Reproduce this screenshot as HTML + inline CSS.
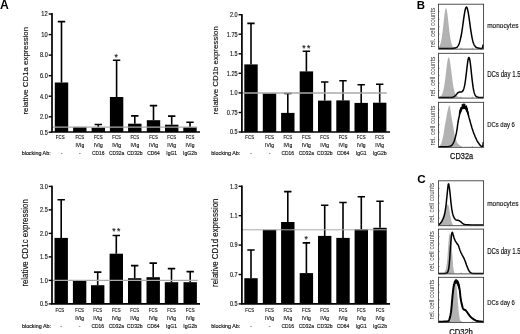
<!DOCTYPE html>
<html><head><meta charset="utf-8"><title>Figure</title>
<style>html,body{margin:0;padding:0;background:#fff}svg{display:block;filter:blur(0.35px)}</style></head>
<body>
<svg width="520" height="334" viewBox="0 0 520 334" font-family='"Liberation Sans", sans-serif' fill="#000">
<rect width="520" height="334" fill="#fff"/>
<path d="M61.5 82.5V21.6M57.8 21.6H65.2" stroke="#000" stroke-width="1.6" fill="none"/>
<rect x="54.8" y="82.5" width="13.4" height="49.5" fill="#000"/>
<rect x="73.1" y="126.9" width="13.4" height="5.1" fill="#000"/>
<path d="M98.3 127.6V124.5M94.6 124.5H102.0" stroke="#000" stroke-width="1.6" fill="none"/>
<rect x="91.6" y="127.6" width="13.4" height="4.4" fill="#000"/>
<path d="M116.6 97.0V60.2M112.9 60.2H120.3" stroke="#000" stroke-width="1.6" fill="none"/>
<rect x="109.9" y="97.0" width="13.4" height="35.0" fill="#000"/>
<path d="M134.8 123.7V115.9M131.1 115.9H138.5" stroke="#000" stroke-width="1.6" fill="none"/>
<rect x="128.1" y="123.7" width="13.4" height="8.3" fill="#000"/>
<path d="M153.5 120.2V105.6M149.8 105.6H157.2" stroke="#000" stroke-width="1.6" fill="none"/>
<rect x="146.8" y="120.2" width="13.4" height="11.8" fill="#000"/>
<path d="M171.7 124.7V116.1M168.0 116.1H175.4" stroke="#000" stroke-width="1.6" fill="none"/>
<rect x="165.0" y="124.7" width="13.4" height="7.3" fill="#000"/>
<path d="M190.0 127.2V122.2M186.3 122.2H193.7" stroke="#000" stroke-width="1.6" fill="none"/>
<rect x="183.3" y="127.2" width="13.4" height="4.8" fill="#000"/>
<path d="M52.0 127.1H197.3" stroke="#aaa" stroke-width="1.3" fill="none"/>
<path d="M52.0 13.0V132.0H200.0" stroke="#000" stroke-width="1.7" fill="none"/>
<path d="M48.7 14.0H52.0" stroke="#000" stroke-width="1.4"/>
<text transform="translate(47.70 16.30)" x="-6.36" y="0" font-size="6.82" textLength="6.36" lengthAdjust="spacingAndGlyphs" fill="#111" stroke="#111" stroke-width="0.15">12</text>
<path d="M48.7 34.6H52.0" stroke="#000" stroke-width="1.4"/>
<text transform="translate(47.70 36.86)" x="-6.36" y="0" font-size="6.82" textLength="6.36" lengthAdjust="spacingAndGlyphs" fill="#111" stroke="#111" stroke-width="0.15">10</text>
<path d="M48.7 55.1H52.0" stroke="#000" stroke-width="1.4"/>
<text transform="translate(47.70 57.41)" x="-7.64" y="0" font-size="6.82" textLength="7.64" lengthAdjust="spacingAndGlyphs" fill="#111" stroke="#111" stroke-width="0.15">8.0</text>
<path d="M48.7 75.7H52.0" stroke="#000" stroke-width="1.4"/>
<text transform="translate(47.70 77.97)" x="-7.64" y="0" font-size="6.82" textLength="7.64" lengthAdjust="spacingAndGlyphs" fill="#111" stroke="#111" stroke-width="0.15">6.0</text>
<path d="M48.7 96.2H52.0" stroke="#000" stroke-width="1.4"/>
<text transform="translate(47.70 98.53)" x="-7.64" y="0" font-size="6.82" textLength="7.64" lengthAdjust="spacingAndGlyphs" fill="#111" stroke="#111" stroke-width="0.15">4.0</text>
<path d="M48.7 116.8H52.0" stroke="#000" stroke-width="1.4"/>
<text transform="translate(47.70 119.08)" x="-7.64" y="0" font-size="6.82" textLength="7.64" lengthAdjust="spacingAndGlyphs" fill="#111" stroke="#111" stroke-width="0.15">2.0</text>
<path d="M48.7 132.2H52.0" stroke="#000" stroke-width="1.4"/>
<text transform="translate(47.70 134.50)" x="-7.64" y="0" font-size="6.82" textLength="7.64" lengthAdjust="spacingAndGlyphs" fill="#111" stroke="#111" stroke-width="0.15">0.5</text>
<text transform="translate(28.30 70.80) rotate(-90)" x="-43.81" y="0" font-size="8.12" textLength="87.63" lengthAdjust="spacingAndGlyphs" fill="#111" stroke="#111" stroke-width="0.15">relative CD1a expression</text>
<text x="114.60" y="60.30" font-size="8.6" textLength="4.0" lengthAdjust="spacing" fill="#222" stroke="#222" stroke-width="0.2">*</text>
<text transform="translate(60.20 139.30)" x="-4.33" y="0" font-size="5.72" textLength="8.66" lengthAdjust="spacingAndGlyphs" fill="#111" stroke="#111" stroke-width="0.15">FCS</text>
<text transform="translate(79.80 139.30)" x="-4.33" y="0" font-size="5.72" textLength="8.66" lengthAdjust="spacingAndGlyphs" fill="#111" stroke="#111" stroke-width="0.15">FCS</text>
<text transform="translate(98.30 139.30)" x="-4.33" y="0" font-size="5.72" textLength="8.66" lengthAdjust="spacingAndGlyphs" fill="#111" stroke="#111" stroke-width="0.15">FCS</text>
<text transform="translate(116.60 139.30)" x="-4.33" y="0" font-size="5.72" textLength="8.66" lengthAdjust="spacingAndGlyphs" fill="#111" stroke="#111" stroke-width="0.15">FCS</text>
<text transform="translate(134.80 139.30)" x="-4.33" y="0" font-size="5.72" textLength="8.66" lengthAdjust="spacingAndGlyphs" fill="#111" stroke="#111" stroke-width="0.15">FCS</text>
<text transform="translate(153.50 139.30)" x="-4.33" y="0" font-size="5.72" textLength="8.66" lengthAdjust="spacingAndGlyphs" fill="#111" stroke="#111" stroke-width="0.15">FCS</text>
<text transform="translate(171.70 139.30)" x="-4.33" y="0" font-size="5.72" textLength="8.66" lengthAdjust="spacingAndGlyphs" fill="#111" stroke="#111" stroke-width="0.15">FCS</text>
<text transform="translate(190.00 139.30)" x="-4.33" y="0" font-size="5.72" textLength="8.66" lengthAdjust="spacingAndGlyphs" fill="#111" stroke="#111" stroke-width="0.15">FCS</text>
<text transform="translate(79.80 147.10)" x="-4.43" y="0" font-size="5.72" textLength="8.85" lengthAdjust="spacingAndGlyphs" fill="#111" stroke="#111" stroke-width="0.15">IVIg</text>
<text transform="translate(98.30 147.10)" x="-4.43" y="0" font-size="5.72" textLength="8.85" lengthAdjust="spacingAndGlyphs" fill="#111" stroke="#111" stroke-width="0.15">IVIg</text>
<text transform="translate(116.60 147.10)" x="-4.43" y="0" font-size="5.72" textLength="8.85" lengthAdjust="spacingAndGlyphs" fill="#111" stroke="#111" stroke-width="0.15">IVIg</text>
<text transform="translate(134.80 147.10)" x="-4.43" y="0" font-size="5.72" textLength="8.85" lengthAdjust="spacingAndGlyphs" fill="#111" stroke="#111" stroke-width="0.15">IVIg</text>
<text transform="translate(153.50 147.10)" x="-4.43" y="0" font-size="5.72" textLength="8.85" lengthAdjust="spacingAndGlyphs" fill="#111" stroke="#111" stroke-width="0.15">IVIg</text>
<text transform="translate(171.70 147.10)" x="-4.43" y="0" font-size="5.72" textLength="8.85" lengthAdjust="spacingAndGlyphs" fill="#111" stroke="#111" stroke-width="0.15">IVIg</text>
<text transform="translate(190.00 147.10)" x="-4.43" y="0" font-size="5.72" textLength="8.85" lengthAdjust="spacingAndGlyphs" fill="#111" stroke="#111" stroke-width="0.15">IVIg</text>
<text transform="translate(61.50 155.00)" x="-0.85" y="0" font-size="5.72" textLength="1.70" lengthAdjust="spacingAndGlyphs" fill="#111" stroke="#111" stroke-width="0.15">-</text>
<text transform="translate(79.80 155.00)" x="-0.85" y="0" font-size="5.72" textLength="1.70" lengthAdjust="spacingAndGlyphs" fill="#111" stroke="#111" stroke-width="0.15">-</text>
<text transform="translate(98.30 155.00)" x="-6.30" y="0" font-size="5.72" textLength="12.61" lengthAdjust="spacingAndGlyphs" fill="#111" stroke="#111" stroke-width="0.15">CD16</text>
<text transform="translate(116.60 155.00)" x="-7.64" y="0" font-size="5.72" textLength="15.28" lengthAdjust="spacingAndGlyphs" fill="#111" stroke="#111" stroke-width="0.15">CD32a</text>
<text transform="translate(134.80 155.00)" x="-7.88" y="0" font-size="5.72" textLength="15.77" lengthAdjust="spacingAndGlyphs" fill="#111" stroke="#111" stroke-width="0.15">CD32b</text>
<text transform="translate(153.50 155.00)" x="-6.30" y="0" font-size="5.72" textLength="12.61" lengthAdjust="spacingAndGlyphs" fill="#111" stroke="#111" stroke-width="0.15">CD64</text>
<text transform="translate(171.70 155.00)" x="-5.43" y="0" font-size="5.72" textLength="10.86" lengthAdjust="spacingAndGlyphs" fill="#111" stroke="#111" stroke-width="0.15">IgG1</text>
<text transform="translate(190.00 155.00)" x="-7.01" y="0" font-size="5.72" textLength="14.02" lengthAdjust="spacingAndGlyphs" fill="#111" stroke="#111" stroke-width="0.15">IgG2b</text>
<text transform="translate(21.70 155.00)" x="0.00" y="0" font-size="5.72" textLength="28.97" lengthAdjust="spacingAndGlyphs" fill="#111" stroke="#111" stroke-width="0.15">blocking Ab:</text>
<path d="M251.0 64.4V23.4M247.3 23.4H254.7" stroke="#000" stroke-width="1.6" fill="none"/>
<rect x="244.3" y="64.4" width="13.4" height="67.6" fill="#000"/>
<rect x="262.8" y="93.3" width="13.4" height="38.7" fill="#000"/>
<path d="M287.8 112.9V93.5M284.1 93.5H291.5" stroke="#000" stroke-width="1.6" fill="none"/>
<rect x="281.1" y="112.9" width="13.4" height="19.1" fill="#000"/>
<path d="M306.4 71.4V51.3M302.7 51.3H310.1" stroke="#000" stroke-width="1.6" fill="none"/>
<rect x="299.7" y="71.4" width="13.4" height="60.6" fill="#000"/>
<path d="M324.7 100.6V82.0M321.0 82.0H328.4" stroke="#000" stroke-width="1.6" fill="none"/>
<rect x="318.0" y="100.6" width="13.4" height="31.4" fill="#000"/>
<path d="M343.0 100.4V80.8M339.3 80.8H346.7" stroke="#000" stroke-width="1.6" fill="none"/>
<rect x="336.3" y="100.4" width="13.4" height="31.6" fill="#000"/>
<path d="M361.2 102.9V84.8M357.5 84.8H364.9" stroke="#000" stroke-width="1.6" fill="none"/>
<rect x="354.5" y="102.9" width="13.4" height="29.1" fill="#000"/>
<path d="M379.7 102.7V84.3M376.0 84.3H383.4" stroke="#000" stroke-width="1.6" fill="none"/>
<rect x="373.0" y="102.7" width="13.4" height="29.3" fill="#000"/>
<path d="M241.9 93.0H386.8" stroke="#aaa" stroke-width="1.3" fill="none"/>
<path d="M241.9 14.0V132.0H390.0" stroke="#000" stroke-width="1.7" fill="none"/>
<path d="M238.6 14.7H241.9" stroke="#000" stroke-width="1.4"/>
<text transform="translate(237.60 17.00)" x="-7.64" y="0" font-size="6.82" textLength="7.64" lengthAdjust="spacingAndGlyphs" fill="#111" stroke="#111" stroke-width="0.15">2.0</text>
<path d="M238.6 34.2H241.9" stroke="#000" stroke-width="1.4"/>
<text transform="translate(237.60 36.55)" x="-10.83" y="0" font-size="6.82" textLength="10.83" lengthAdjust="spacingAndGlyphs" fill="#111" stroke="#111" stroke-width="0.15">1.75</text>
<path d="M238.6 53.8H241.9" stroke="#000" stroke-width="1.4"/>
<text transform="translate(237.60 56.10)" x="-7.64" y="0" font-size="6.82" textLength="7.64" lengthAdjust="spacingAndGlyphs" fill="#111" stroke="#111" stroke-width="0.15">1.5</text>
<path d="M238.6 73.3H241.9" stroke="#000" stroke-width="1.4"/>
<text transform="translate(237.60 75.65)" x="-10.83" y="0" font-size="6.82" textLength="10.83" lengthAdjust="spacingAndGlyphs" fill="#111" stroke="#111" stroke-width="0.15">1.25</text>
<path d="M238.6 92.9H241.9" stroke="#000" stroke-width="1.4"/>
<text transform="translate(237.60 95.20)" x="-7.64" y="0" font-size="6.82" textLength="7.64" lengthAdjust="spacingAndGlyphs" fill="#111" stroke="#111" stroke-width="0.15">1.0</text>
<path d="M238.6 112.5H241.9" stroke="#000" stroke-width="1.4"/>
<text transform="translate(237.60 114.75)" x="-10.83" y="0" font-size="6.82" textLength="10.83" lengthAdjust="spacingAndGlyphs" fill="#111" stroke="#111" stroke-width="0.15">0.75</text>
<path d="M238.6 132.0H241.9" stroke="#000" stroke-width="1.4"/>
<text transform="translate(237.60 134.30)" x="-7.64" y="0" font-size="6.82" textLength="7.64" lengthAdjust="spacingAndGlyphs" fill="#111" stroke="#111" stroke-width="0.15">0.5</text>
<text transform="translate(218.40 70.30) rotate(-90)" x="-44.08" y="0" font-size="8.10" textLength="88.17" lengthAdjust="spacingAndGlyphs" fill="#111" stroke="#111" stroke-width="0.15">relative CD1b expression</text>
<text x="302.30" y="50.70" font-size="8.6" textLength="8.0" lengthAdjust="spacing" fill="#222" stroke="#222" stroke-width="0.2">**</text>
<text transform="translate(249.70 139.30)" x="-4.33" y="0" font-size="5.72" textLength="8.66" lengthAdjust="spacingAndGlyphs" fill="#111" stroke="#111" stroke-width="0.15">FCS</text>
<text transform="translate(269.50 139.30)" x="-4.33" y="0" font-size="5.72" textLength="8.66" lengthAdjust="spacingAndGlyphs" fill="#111" stroke="#111" stroke-width="0.15">FCS</text>
<text transform="translate(287.80 139.30)" x="-4.33" y="0" font-size="5.72" textLength="8.66" lengthAdjust="spacingAndGlyphs" fill="#111" stroke="#111" stroke-width="0.15">FCS</text>
<text transform="translate(306.40 139.30)" x="-4.33" y="0" font-size="5.72" textLength="8.66" lengthAdjust="spacingAndGlyphs" fill="#111" stroke="#111" stroke-width="0.15">FCS</text>
<text transform="translate(324.70 139.30)" x="-4.33" y="0" font-size="5.72" textLength="8.66" lengthAdjust="spacingAndGlyphs" fill="#111" stroke="#111" stroke-width="0.15">FCS</text>
<text transform="translate(343.00 139.30)" x="-4.33" y="0" font-size="5.72" textLength="8.66" lengthAdjust="spacingAndGlyphs" fill="#111" stroke="#111" stroke-width="0.15">FCS</text>
<text transform="translate(361.20 139.30)" x="-4.33" y="0" font-size="5.72" textLength="8.66" lengthAdjust="spacingAndGlyphs" fill="#111" stroke="#111" stroke-width="0.15">FCS</text>
<text transform="translate(379.70 139.30)" x="-4.33" y="0" font-size="5.72" textLength="8.66" lengthAdjust="spacingAndGlyphs" fill="#111" stroke="#111" stroke-width="0.15">FCS</text>
<text transform="translate(269.50 147.10)" x="-4.43" y="0" font-size="5.72" textLength="8.85" lengthAdjust="spacingAndGlyphs" fill="#111" stroke="#111" stroke-width="0.15">IVIg</text>
<text transform="translate(287.80 147.10)" x="-4.43" y="0" font-size="5.72" textLength="8.85" lengthAdjust="spacingAndGlyphs" fill="#111" stroke="#111" stroke-width="0.15">IVIg</text>
<text transform="translate(306.40 147.10)" x="-4.43" y="0" font-size="5.72" textLength="8.85" lengthAdjust="spacingAndGlyphs" fill="#111" stroke="#111" stroke-width="0.15">IVIg</text>
<text transform="translate(324.70 147.10)" x="-4.43" y="0" font-size="5.72" textLength="8.85" lengthAdjust="spacingAndGlyphs" fill="#111" stroke="#111" stroke-width="0.15">IVIg</text>
<text transform="translate(343.00 147.10)" x="-4.43" y="0" font-size="5.72" textLength="8.85" lengthAdjust="spacingAndGlyphs" fill="#111" stroke="#111" stroke-width="0.15">IVIg</text>
<text transform="translate(361.20 147.10)" x="-4.43" y="0" font-size="5.72" textLength="8.85" lengthAdjust="spacingAndGlyphs" fill="#111" stroke="#111" stroke-width="0.15">IVIg</text>
<text transform="translate(379.70 147.10)" x="-4.43" y="0" font-size="5.72" textLength="8.85" lengthAdjust="spacingAndGlyphs" fill="#111" stroke="#111" stroke-width="0.15">IVIg</text>
<text transform="translate(251.00 155.00)" x="-0.85" y="0" font-size="5.72" textLength="1.70" lengthAdjust="spacingAndGlyphs" fill="#111" stroke="#111" stroke-width="0.15">-</text>
<text transform="translate(269.50 155.00)" x="-0.85" y="0" font-size="5.72" textLength="1.70" lengthAdjust="spacingAndGlyphs" fill="#111" stroke="#111" stroke-width="0.15">-</text>
<text transform="translate(287.80 155.00)" x="-6.30" y="0" font-size="5.72" textLength="12.61" lengthAdjust="spacingAndGlyphs" fill="#111" stroke="#111" stroke-width="0.15">CD16</text>
<text transform="translate(306.40 155.00)" x="-7.64" y="0" font-size="5.72" textLength="15.28" lengthAdjust="spacingAndGlyphs" fill="#111" stroke="#111" stroke-width="0.15">CD32a</text>
<text transform="translate(324.70 155.00)" x="-7.88" y="0" font-size="5.72" textLength="15.77" lengthAdjust="spacingAndGlyphs" fill="#111" stroke="#111" stroke-width="0.15">CD32b</text>
<text transform="translate(343.00 155.00)" x="-6.30" y="0" font-size="5.72" textLength="12.61" lengthAdjust="spacingAndGlyphs" fill="#111" stroke="#111" stroke-width="0.15">CD64</text>
<text transform="translate(361.20 155.00)" x="-5.43" y="0" font-size="5.72" textLength="10.86" lengthAdjust="spacingAndGlyphs" fill="#111" stroke="#111" stroke-width="0.15">IgG1</text>
<text transform="translate(379.70 155.00)" x="-7.01" y="0" font-size="5.72" textLength="14.02" lengthAdjust="spacingAndGlyphs" fill="#111" stroke="#111" stroke-width="0.15">IgG2b</text>
<text transform="translate(211.30 155.00)" x="0.00" y="0" font-size="5.72" textLength="28.97" lengthAdjust="spacingAndGlyphs" fill="#111" stroke="#111" stroke-width="0.15">blocking Ab:</text>
<path d="M61.2 237.9V199.7M57.5 199.7H64.9" stroke="#000" stroke-width="1.6" fill="none"/>
<rect x="54.5" y="237.9" width="13.4" height="66.0" fill="#000"/>
<rect x="72.9" y="280.2" width="13.4" height="23.7" fill="#000"/>
<path d="M97.7 285.2V272.1M94.0 272.1H101.4" stroke="#000" stroke-width="1.6" fill="none"/>
<rect x="91.0" y="285.2" width="13.4" height="18.7" fill="#000"/>
<path d="M116.3 253.7V235.5M112.6 235.5H120.0" stroke="#000" stroke-width="1.6" fill="none"/>
<rect x="109.6" y="253.7" width="13.4" height="50.2" fill="#000"/>
<path d="M134.7 278.2V265.6M131.0 265.6H138.4" stroke="#000" stroke-width="1.6" fill="none"/>
<rect x="128.0" y="278.2" width="13.4" height="25.7" fill="#000"/>
<path d="M153.2 277.2V263.1M149.5 263.1H156.9" stroke="#000" stroke-width="1.6" fill="none"/>
<rect x="146.5" y="277.2" width="13.4" height="26.7" fill="#000"/>
<path d="M171.5 282.2V268.6M167.8 268.6H175.2" stroke="#000" stroke-width="1.6" fill="none"/>
<rect x="164.8" y="282.2" width="13.4" height="21.7" fill="#000"/>
<path d="M190.2 282.2V271.6M186.5 271.6H193.9" stroke="#000" stroke-width="1.6" fill="none"/>
<rect x="183.5" y="282.2" width="13.4" height="21.7" fill="#000"/>
<path d="M52.0 280.4H197.6" stroke="#aaa" stroke-width="1.1" fill="none"/>
<path d="M52.0 185.7V303.9H200.0" stroke="#000" stroke-width="1.7" fill="none"/>
<path d="M48.7 186.4H52.0" stroke="#000" stroke-width="1.4"/>
<text transform="translate(47.70 188.70)" x="-7.64" y="0" font-size="6.82" textLength="7.64" lengthAdjust="spacingAndGlyphs" fill="#111" stroke="#111" stroke-width="0.15">3.0</text>
<path d="M48.7 209.9H52.0" stroke="#000" stroke-width="1.4"/>
<text transform="translate(47.70 212.20)" x="-7.64" y="0" font-size="6.82" textLength="7.64" lengthAdjust="spacingAndGlyphs" fill="#111" stroke="#111" stroke-width="0.15">2.5</text>
<path d="M48.7 233.4H52.0" stroke="#000" stroke-width="1.4"/>
<text transform="translate(47.70 235.70)" x="-7.64" y="0" font-size="6.82" textLength="7.64" lengthAdjust="spacingAndGlyphs" fill="#111" stroke="#111" stroke-width="0.15">2.0</text>
<path d="M48.7 256.9H52.0" stroke="#000" stroke-width="1.4"/>
<text transform="translate(47.70 259.20)" x="-7.64" y="0" font-size="6.82" textLength="7.64" lengthAdjust="spacingAndGlyphs" fill="#111" stroke="#111" stroke-width="0.15">1.5</text>
<path d="M48.7 280.4H52.0" stroke="#000" stroke-width="1.4"/>
<text transform="translate(47.70 282.70)" x="-7.64" y="0" font-size="6.82" textLength="7.64" lengthAdjust="spacingAndGlyphs" fill="#111" stroke="#111" stroke-width="0.15">1.0</text>
<path d="M48.7 303.9H52.0" stroke="#000" stroke-width="1.4"/>
<text transform="translate(47.70 306.20)" x="-7.64" y="0" font-size="6.82" textLength="7.64" lengthAdjust="spacingAndGlyphs" fill="#111" stroke="#111" stroke-width="0.15">0.5</text>
<text transform="translate(27.70 242.90) rotate(-90)" x="-43.72" y="0" font-size="8.13" textLength="87.44" lengthAdjust="spacingAndGlyphs" fill="#111" stroke="#111" stroke-width="0.15">relative CD1c expression</text>
<text x="112.30" y="234.40" font-size="8.6" textLength="8.0" lengthAdjust="spacing" fill="#222" stroke="#222" stroke-width="0.2">**</text>
<text transform="translate(59.90 311.70)" x="-4.33" y="0" font-size="5.72" textLength="8.66" lengthAdjust="spacingAndGlyphs" fill="#111" stroke="#111" stroke-width="0.15">FCS</text>
<text transform="translate(79.60 311.70)" x="-4.33" y="0" font-size="5.72" textLength="8.66" lengthAdjust="spacingAndGlyphs" fill="#111" stroke="#111" stroke-width="0.15">FCS</text>
<text transform="translate(97.70 311.70)" x="-4.33" y="0" font-size="5.72" textLength="8.66" lengthAdjust="spacingAndGlyphs" fill="#111" stroke="#111" stroke-width="0.15">FCS</text>
<text transform="translate(116.30 311.70)" x="-4.33" y="0" font-size="5.72" textLength="8.66" lengthAdjust="spacingAndGlyphs" fill="#111" stroke="#111" stroke-width="0.15">FCS</text>
<text transform="translate(134.70 311.70)" x="-4.33" y="0" font-size="5.72" textLength="8.66" lengthAdjust="spacingAndGlyphs" fill="#111" stroke="#111" stroke-width="0.15">FCS</text>
<text transform="translate(153.20 311.70)" x="-4.33" y="0" font-size="5.72" textLength="8.66" lengthAdjust="spacingAndGlyphs" fill="#111" stroke="#111" stroke-width="0.15">FCS</text>
<text transform="translate(171.50 311.70)" x="-4.33" y="0" font-size="5.72" textLength="8.66" lengthAdjust="spacingAndGlyphs" fill="#111" stroke="#111" stroke-width="0.15">FCS</text>
<text transform="translate(190.20 311.70)" x="-4.33" y="0" font-size="5.72" textLength="8.66" lengthAdjust="spacingAndGlyphs" fill="#111" stroke="#111" stroke-width="0.15">FCS</text>
<text transform="translate(79.60 319.70)" x="-4.43" y="0" font-size="5.72" textLength="8.85" lengthAdjust="spacingAndGlyphs" fill="#111" stroke="#111" stroke-width="0.15">IVIg</text>
<text transform="translate(97.70 319.70)" x="-4.43" y="0" font-size="5.72" textLength="8.85" lengthAdjust="spacingAndGlyphs" fill="#111" stroke="#111" stroke-width="0.15">IVIg</text>
<text transform="translate(116.30 319.70)" x="-4.43" y="0" font-size="5.72" textLength="8.85" lengthAdjust="spacingAndGlyphs" fill="#111" stroke="#111" stroke-width="0.15">IVIg</text>
<text transform="translate(134.70 319.70)" x="-4.43" y="0" font-size="5.72" textLength="8.85" lengthAdjust="spacingAndGlyphs" fill="#111" stroke="#111" stroke-width="0.15">IVIg</text>
<text transform="translate(153.20 319.70)" x="-4.43" y="0" font-size="5.72" textLength="8.85" lengthAdjust="spacingAndGlyphs" fill="#111" stroke="#111" stroke-width="0.15">IVIg</text>
<text transform="translate(171.50 319.70)" x="-4.43" y="0" font-size="5.72" textLength="8.85" lengthAdjust="spacingAndGlyphs" fill="#111" stroke="#111" stroke-width="0.15">IVIg</text>
<text transform="translate(190.20 319.70)" x="-4.43" y="0" font-size="5.72" textLength="8.85" lengthAdjust="spacingAndGlyphs" fill="#111" stroke="#111" stroke-width="0.15">IVIg</text>
<text transform="translate(61.20 327.90)" x="-0.85" y="0" font-size="5.72" textLength="1.70" lengthAdjust="spacingAndGlyphs" fill="#111" stroke="#111" stroke-width="0.15">-</text>
<text transform="translate(79.60 327.90)" x="-0.85" y="0" font-size="5.72" textLength="1.70" lengthAdjust="spacingAndGlyphs" fill="#111" stroke="#111" stroke-width="0.15">-</text>
<text transform="translate(97.70 327.90)" x="-6.30" y="0" font-size="5.72" textLength="12.61" lengthAdjust="spacingAndGlyphs" fill="#111" stroke="#111" stroke-width="0.15">CD16</text>
<text transform="translate(116.30 327.90)" x="-7.64" y="0" font-size="5.72" textLength="15.28" lengthAdjust="spacingAndGlyphs" fill="#111" stroke="#111" stroke-width="0.15">CD32a</text>
<text transform="translate(134.70 327.90)" x="-7.88" y="0" font-size="5.72" textLength="15.77" lengthAdjust="spacingAndGlyphs" fill="#111" stroke="#111" stroke-width="0.15">CD32b</text>
<text transform="translate(153.20 327.90)" x="-6.30" y="0" font-size="5.72" textLength="12.61" lengthAdjust="spacingAndGlyphs" fill="#111" stroke="#111" stroke-width="0.15">CD64</text>
<text transform="translate(171.50 327.90)" x="-5.43" y="0" font-size="5.72" textLength="10.86" lengthAdjust="spacingAndGlyphs" fill="#111" stroke="#111" stroke-width="0.15">IgG1</text>
<text transform="translate(190.20 327.90)" x="-7.01" y="0" font-size="5.72" textLength="14.02" lengthAdjust="spacingAndGlyphs" fill="#111" stroke="#111" stroke-width="0.15">IgG2b</text>
<text transform="translate(22.00 327.90)" x="0.00" y="0" font-size="5.72" textLength="28.97" lengthAdjust="spacingAndGlyphs" fill="#111" stroke="#111" stroke-width="0.15">blocking Ab:</text>
<path d="M251.0 278.2V250.0M247.3 250.0H254.7" stroke="#000" stroke-width="1.6" fill="none"/>
<rect x="244.3" y="278.2" width="13.4" height="25.7" fill="#000"/>
<rect x="262.8" y="229.8" width="13.4" height="74.1" fill="#000"/>
<path d="M287.8 222.0V191.6M284.1 191.6H291.5" stroke="#000" stroke-width="1.6" fill="none"/>
<rect x="281.1" y="222.0" width="13.4" height="81.9" fill="#000"/>
<path d="M306.4 273.1V242.9M302.7 242.9H310.1" stroke="#000" stroke-width="1.6" fill="none"/>
<rect x="299.7" y="273.1" width="13.4" height="30.8" fill="#000"/>
<path d="M324.7 235.9V205.2M321.0 205.2H328.4" stroke="#000" stroke-width="1.6" fill="none"/>
<rect x="318.0" y="235.9" width="13.4" height="68.0" fill="#000"/>
<path d="M343.0 237.9V202.5M339.3 202.5H346.7" stroke="#000" stroke-width="1.6" fill="none"/>
<rect x="336.3" y="237.9" width="13.4" height="66.0" fill="#000"/>
<path d="M361.3 229.3V196.8M357.6 196.8H365.0" stroke="#000" stroke-width="1.6" fill="none"/>
<rect x="354.6" y="229.3" width="13.4" height="74.6" fill="#000"/>
<path d="M380.0 227.8V201.3M376.3 201.3H383.7" stroke="#000" stroke-width="1.6" fill="none"/>
<rect x="373.3" y="227.8" width="13.4" height="76.1" fill="#000"/>
<path d="M241.9 229.8H386.7" stroke="#aaa" stroke-width="1.0" fill="none"/>
<path d="M241.9 185.6V303.9H390.0" stroke="#000" stroke-width="1.7" fill="none"/>
<path d="M238.6 186.3H241.9" stroke="#000" stroke-width="1.4"/>
<text transform="translate(237.60 188.60)" x="-7.64" y="0" font-size="6.82" textLength="7.64" lengthAdjust="spacingAndGlyphs" fill="#111" stroke="#111" stroke-width="0.15">1.3</text>
<path d="M238.6 215.7H241.9" stroke="#000" stroke-width="1.4"/>
<text transform="translate(237.60 218.00)" x="-7.64" y="0" font-size="6.82" textLength="7.64" lengthAdjust="spacingAndGlyphs" fill="#111" stroke="#111" stroke-width="0.15">1.1</text>
<path d="M238.6 245.1H241.9" stroke="#000" stroke-width="1.4"/>
<text transform="translate(237.60 247.40)" x="-7.64" y="0" font-size="6.82" textLength="7.64" lengthAdjust="spacingAndGlyphs" fill="#111" stroke="#111" stroke-width="0.15">0.9</text>
<path d="M238.6 274.5H241.9" stroke="#000" stroke-width="1.4"/>
<text transform="translate(237.60 276.80)" x="-7.64" y="0" font-size="6.82" textLength="7.64" lengthAdjust="spacingAndGlyphs" fill="#111" stroke="#111" stroke-width="0.15">0.7</text>
<path d="M238.6 303.9H241.9" stroke="#000" stroke-width="1.4"/>
<text transform="translate(237.60 306.20)" x="-7.64" y="0" font-size="6.82" textLength="7.64" lengthAdjust="spacingAndGlyphs" fill="#111" stroke="#111" stroke-width="0.15">0.5</text>
<text transform="translate(218.40 242.70) rotate(-90)" x="-44.22" y="0" font-size="8.13" textLength="88.43" lengthAdjust="spacingAndGlyphs" fill="#111" stroke="#111" stroke-width="0.15">relative CD1d expression</text>
<text x="304.40" y="242.00" font-size="8.6" textLength="4.0" lengthAdjust="spacing" fill="#222" stroke="#222" stroke-width="0.2">*</text>
<text transform="translate(249.70 311.70)" x="-4.33" y="0" font-size="5.72" textLength="8.66" lengthAdjust="spacingAndGlyphs" fill="#111" stroke="#111" stroke-width="0.15">FCS</text>
<text transform="translate(269.50 311.70)" x="-4.33" y="0" font-size="5.72" textLength="8.66" lengthAdjust="spacingAndGlyphs" fill="#111" stroke="#111" stroke-width="0.15">FCS</text>
<text transform="translate(287.80 311.70)" x="-4.33" y="0" font-size="5.72" textLength="8.66" lengthAdjust="spacingAndGlyphs" fill="#111" stroke="#111" stroke-width="0.15">FCS</text>
<text transform="translate(306.40 311.70)" x="-4.33" y="0" font-size="5.72" textLength="8.66" lengthAdjust="spacingAndGlyphs" fill="#111" stroke="#111" stroke-width="0.15">FCS</text>
<text transform="translate(324.70 311.70)" x="-4.33" y="0" font-size="5.72" textLength="8.66" lengthAdjust="spacingAndGlyphs" fill="#111" stroke="#111" stroke-width="0.15">FCS</text>
<text transform="translate(343.00 311.70)" x="-4.33" y="0" font-size="5.72" textLength="8.66" lengthAdjust="spacingAndGlyphs" fill="#111" stroke="#111" stroke-width="0.15">FCS</text>
<text transform="translate(361.30 311.70)" x="-4.33" y="0" font-size="5.72" textLength="8.66" lengthAdjust="spacingAndGlyphs" fill="#111" stroke="#111" stroke-width="0.15">FCS</text>
<text transform="translate(380.00 311.70)" x="-4.33" y="0" font-size="5.72" textLength="8.66" lengthAdjust="spacingAndGlyphs" fill="#111" stroke="#111" stroke-width="0.15">FCS</text>
<text transform="translate(269.50 319.70)" x="-4.43" y="0" font-size="5.72" textLength="8.85" lengthAdjust="spacingAndGlyphs" fill="#111" stroke="#111" stroke-width="0.15">IVIg</text>
<text transform="translate(287.80 319.70)" x="-4.43" y="0" font-size="5.72" textLength="8.85" lengthAdjust="spacingAndGlyphs" fill="#111" stroke="#111" stroke-width="0.15">IVIg</text>
<text transform="translate(306.40 319.70)" x="-4.43" y="0" font-size="5.72" textLength="8.85" lengthAdjust="spacingAndGlyphs" fill="#111" stroke="#111" stroke-width="0.15">IVIg</text>
<text transform="translate(324.70 319.70)" x="-4.43" y="0" font-size="5.72" textLength="8.85" lengthAdjust="spacingAndGlyphs" fill="#111" stroke="#111" stroke-width="0.15">IVIg</text>
<text transform="translate(343.00 319.70)" x="-4.43" y="0" font-size="5.72" textLength="8.85" lengthAdjust="spacingAndGlyphs" fill="#111" stroke="#111" stroke-width="0.15">IVIg</text>
<text transform="translate(361.30 319.70)" x="-4.43" y="0" font-size="5.72" textLength="8.85" lengthAdjust="spacingAndGlyphs" fill="#111" stroke="#111" stroke-width="0.15">IVIg</text>
<text transform="translate(380.00 319.70)" x="-4.43" y="0" font-size="5.72" textLength="8.85" lengthAdjust="spacingAndGlyphs" fill="#111" stroke="#111" stroke-width="0.15">IVIg</text>
<text transform="translate(251.00 327.90)" x="-0.85" y="0" font-size="5.72" textLength="1.70" lengthAdjust="spacingAndGlyphs" fill="#111" stroke="#111" stroke-width="0.15">-</text>
<text transform="translate(269.50 327.90)" x="-0.85" y="0" font-size="5.72" textLength="1.70" lengthAdjust="spacingAndGlyphs" fill="#111" stroke="#111" stroke-width="0.15">-</text>
<text transform="translate(287.80 327.90)" x="-6.30" y="0" font-size="5.72" textLength="12.61" lengthAdjust="spacingAndGlyphs" fill="#111" stroke="#111" stroke-width="0.15">CD16</text>
<text transform="translate(306.40 327.90)" x="-7.64" y="0" font-size="5.72" textLength="15.28" lengthAdjust="spacingAndGlyphs" fill="#111" stroke="#111" stroke-width="0.15">CD32a</text>
<text transform="translate(324.70 327.90)" x="-7.88" y="0" font-size="5.72" textLength="15.77" lengthAdjust="spacingAndGlyphs" fill="#111" stroke="#111" stroke-width="0.15">CD32b</text>
<text transform="translate(343.00 327.90)" x="-6.30" y="0" font-size="5.72" textLength="12.61" lengthAdjust="spacingAndGlyphs" fill="#111" stroke="#111" stroke-width="0.15">CD64</text>
<text transform="translate(361.30 327.90)" x="-5.43" y="0" font-size="5.72" textLength="10.86" lengthAdjust="spacingAndGlyphs" fill="#111" stroke="#111" stroke-width="0.15">IgG1</text>
<text transform="translate(380.00 327.90)" x="-7.01" y="0" font-size="5.72" textLength="14.02" lengthAdjust="spacingAndGlyphs" fill="#111" stroke="#111" stroke-width="0.15">IgG2b</text>
<text transform="translate(211.30 327.90)" x="0.00" y="0" font-size="5.72" textLength="28.97" lengthAdjust="spacingAndGlyphs" fill="#111" stroke="#111" stroke-width="0.15">blocking Ab:</text>
<text x="0.1" y="8.5" font-size="12.2" font-weight="bold">A</text>
<text x="416.8" y="8.5" font-size="11.4" font-weight="bold">B</text>
<text x="417.2" y="182.6" font-size="11.7" font-weight="bold">C</text>
<path d="M439.0 46.9L439.4 46.3L439.8 45.6L440.2 44.6L440.6 43.3L441.0 41.7L441.4 39.7L441.8 37.3L442.2 34.5L442.6 31.2L443.0 27.7L443.4 24.0L443.8 20.3L444.2 16.7L444.6 13.6L445.0 11.0L445.4 9.2L445.8 8.2L446.2 8.2L446.6 9.2L447.0 11.1L447.4 13.7L447.8 16.9L448.2 20.4L448.6 24.1L449.0 27.8L449.4 31.3L449.8 34.5L450.2 37.3L450.6 39.7L451.0 41.6L451.4 43.2L451.8 44.5L452.2 45.5L452.6 46.2L453.0 46.8L453.4 47.2L453.8 47.5L454.2 47.7L454.6 47.9L455.0 48.1L455.4 48.2L455.8 48.3L456.2 48.3L456.6 48.4L457.0 48.4L457.4 48.5L457.8 48.5L458.2 48.5L458.6 48.5L459.0 48.6L459.4 48.6L459.8 48.6L460.2 48.6L460.6 48.6L461.1 48.6L461.5 48.6L461.9 48.6L462.3 48.6L462.7 48.6L463.1 48.6L463.5 48.6L463.9 48.6L464.3 48.6L464.7 48.6L465.1 48.6L465.5 48.6L465.9 48.6L466.3 48.6L466.7 48.6L467.1 48.6L467.5 48.6L467.9 48.6L468.3 48.6L468.7 48.6L469.1 48.6L469.5 48.6L469.9 48.6L470.3 48.6L470.7 48.6L471.1 48.6L471.5 48.6L471.9 48.6L472.3 48.6L472.7 48.6L473.1 48.6L473.5 48.6L473.9 48.6L474.3 48.6L474.7 48.6L475.1 48.6L475.5 48.6L475.9 48.6L476.3 48.6L476.7 48.6L477.1 48.6L477.5 48.6L477.9 48.6L478.3 48.6L478.7 48.6L479.1 48.6L479.5 48.6L479.9 48.6L480.3 48.6L480.7 48.6L481.1 48.6L481.5 48.6L481.9 48.6L482.3 48.6L482.7 48.6L483.1 48.6L483.1 48.6L439.0 48.6Z" fill="#b2b2b2"/>
<path d="M439.0 48.6L439.4 48.6L439.8 48.6L440.2 48.6L440.6 48.6L441.0 48.6L441.4 48.6L441.8 48.6L442.2 48.6L442.6 48.6L443.0 48.6L443.4 48.6L443.8 48.6L444.2 48.6L444.6 48.6L445.0 48.6L445.4 48.6L445.8 48.6L446.2 48.6L446.6 48.6L447.0 48.6L447.4 48.6L447.8 48.6L448.2 48.6L448.6 48.6L449.0 48.6L449.4 48.6L449.8 48.5L450.2 48.5L450.6 48.5L451.0 48.5L451.4 48.5L451.8 48.5L452.2 48.4L452.6 48.4L453.0 48.4L453.4 48.3L453.8 48.3L454.2 48.2L454.6 48.1L455.0 48.0L455.4 47.9L455.8 47.8L456.2 47.6L456.6 47.4L457.0 47.1L457.4 46.7L457.8 46.2L458.2 45.6L458.6 44.9L459.0 44.0L459.4 42.9L459.8 41.6L460.2 40.1L460.6 38.3L461.1 36.3L461.5 34.0L461.9 31.5L462.3 28.8L462.7 26.0L463.1 23.1L463.5 20.1L463.9 17.3L464.3 14.6L464.7 12.3L465.1 10.2L465.5 8.7L465.9 7.6L466.3 7.1L466.7 7.2L467.1 7.9L467.5 9.1L467.9 10.8L468.3 12.9L468.7 15.4L469.1 18.1L469.5 20.9L469.9 23.9L470.3 26.8L470.7 29.6L471.1 32.2L471.5 34.6L471.9 36.8L472.3 38.8L472.7 40.5L473.1 42.0L473.5 43.2L473.9 44.2L474.3 45.1L474.7 45.7L475.1 46.3L475.5 46.7L475.9 47.1L476.3 47.4L476.7 47.6L477.1 47.7L477.5 47.9L477.9 48.0L478.3 48.1L478.7 48.2L479.1 48.2L479.5 48.3L479.9 48.3L480.3 48.4L480.7 48.4L481.1 48.4L481.5 48.5L481.9 48.4L482.3 48.1L482.7 46.9L483.1 44.6" fill="none" stroke="#000" stroke-width="1.5" stroke-linejoin="round"/>
<rect x="438.5" y="4.2" width="45.1" height="44.9" fill="none" stroke="#333" stroke-width="0.85"/>
<path d="M438.5 41.6h1.3" stroke="#555" stroke-width="0.5"/>
<path d="M438.5 34.1h1.3" stroke="#555" stroke-width="0.5"/>
<path d="M438.5 26.7h1.3" stroke="#555" stroke-width="0.5"/>
<path d="M438.5 19.2h1.3" stroke="#555" stroke-width="0.5"/>
<path d="M438.5 11.7h1.3" stroke="#555" stroke-width="0.5"/>
<path d="M449.8 49.1v-1.3" stroke="#555" stroke-width="0.5"/>
<path d="M461.1 49.1v-1.3" stroke="#555" stroke-width="0.5"/>
<path d="M472.3 49.1v-1.3" stroke="#555" stroke-width="0.5"/>
<text transform="translate(434.70 27.50) rotate(-90)" x="-19.92" y="0" font-size="6.50" textLength="39.84" lengthAdjust="spacingAndGlyphs" fill="#333">rel. cell counts</text>
<text transform="translate(487.20 28.30)" x="0.00" y="0" font-size="7.76" textLength="31.28" lengthAdjust="spacingAndGlyphs" fill="#111" stroke="#111" stroke-width="0.15">monocytes</text>
<path d="M439.0 97.1L439.4 97.0L439.8 96.8L440.2 96.6L440.6 96.3L441.0 96.0L441.4 95.5L441.8 94.9L442.2 94.1L442.6 93.1L443.0 91.8L443.4 90.2L443.8 88.3L444.2 86.0L444.6 83.4L445.0 80.4L445.4 77.2L445.8 73.8L446.2 70.4L446.6 67.0L447.0 63.9L447.4 61.3L447.8 59.2L448.2 57.8L448.6 57.2L449.0 57.4L449.4 58.4L449.8 60.1L450.2 62.5L450.6 65.4L451.0 68.6L451.4 71.9L451.8 75.3L452.2 78.5L452.6 81.6L453.0 84.3L453.4 86.7L453.8 88.8L454.2 90.5L454.6 92.0L455.0 93.1L455.4 94.0L455.8 94.7L456.2 95.3L456.6 95.7L457.0 96.1L457.4 96.3L457.8 96.6L458.2 96.7L458.6 96.9L459.0 97.0L459.4 97.1L459.8 97.2L460.2 97.3L460.6 97.3L461.1 97.4L461.5 97.4L461.9 97.5L462.3 97.5L462.7 97.5L463.1 97.5L463.5 97.5L463.9 97.6L464.3 97.6L464.7 97.6L465.1 97.6L465.5 97.6L465.9 97.6L466.3 97.6L466.7 97.6L467.1 97.6L467.5 97.6L467.9 97.6L468.3 97.6L468.7 97.6L469.1 97.6L469.5 97.6L469.9 97.6L470.3 97.6L470.7 97.6L471.1 97.6L471.5 97.6L471.9 97.6L472.3 97.6L472.7 97.6L473.1 97.6L473.5 97.6L473.9 97.6L474.3 97.6L474.7 97.6L475.1 97.6L475.5 97.6L475.9 97.6L476.3 97.6L476.7 97.6L477.1 97.6L477.5 97.6L477.9 97.6L478.3 97.6L478.7 97.6L479.1 97.6L479.5 97.6L479.9 97.6L480.3 97.6L480.7 97.6L481.1 97.6L481.5 97.6L481.9 97.6L482.3 97.6L482.7 97.6L483.1 97.6L483.1 97.6L439.0 97.6Z" fill="#b2b2b2"/>
<path d="M439.0 97.6L439.4 97.6L439.8 97.6L440.2 97.6L440.6 97.6L441.0 97.6L441.4 97.6L441.8 97.6L442.2 97.6L442.6 97.6L443.0 97.6L443.4 97.6L443.8 97.6L444.2 97.6L444.6 97.6L445.0 97.6L445.4 97.6L445.8 97.6L446.2 97.6L446.6 97.6L447.0 97.6L447.4 97.6L447.8 97.6L448.2 97.6L448.6 97.6L449.0 97.6L449.4 97.6L449.8 97.6L450.2 97.6L450.6 97.6L451.0 97.5L451.4 97.5L451.8 97.4L452.2 97.4L452.6 97.3L453.0 97.2L453.4 97.0L453.8 96.8L454.2 96.6L454.6 96.3L455.0 95.9L455.4 95.6L455.8 95.1L456.2 94.7L456.6 94.2L457.0 93.8L457.4 93.3L457.8 92.9L458.2 92.6L458.6 92.4L459.0 92.2L459.4 92.1L459.8 92.0L460.2 92.0L460.6 92.0L461.1 92.0L461.5 91.9L461.9 91.8L462.3 91.5L462.7 91.1L463.1 90.5L463.5 89.6L463.9 88.4L464.3 86.9L464.7 85.1L465.1 82.8L465.5 80.0L465.9 76.9L466.3 73.6L466.7 70.0L467.1 66.6L467.5 63.4L467.9 60.7L468.3 58.7L468.7 57.6L469.1 57.6L469.5 58.5L469.9 60.3L470.3 63.0L470.7 66.3L471.1 70.0L471.5 73.8L471.9 77.6L472.3 81.1L472.7 84.4L473.1 87.2L473.5 89.5L473.9 91.4L474.3 93.0L474.7 94.1L475.1 95.0L475.5 95.7L475.9 96.2L476.3 96.5L476.7 96.8L477.1 97.0L477.5 97.1L477.9 97.2L478.3 97.3L478.7 97.4L479.1 97.4L479.5 97.5L479.9 97.5L480.3 97.5L480.7 97.6L481.1 97.6L481.5 97.6L481.9 97.6L482.3 97.6L482.7 97.6L483.1 97.6" fill="none" stroke="#000" stroke-width="1.5" stroke-linejoin="round"/>
<rect x="438.5" y="53.3" width="45.1" height="44.8" fill="none" stroke="#333" stroke-width="0.85"/>
<path d="M438.5 90.6h1.3" stroke="#555" stroke-width="0.5"/>
<path d="M438.5 83.2h1.3" stroke="#555" stroke-width="0.5"/>
<path d="M438.5 75.7h1.3" stroke="#555" stroke-width="0.5"/>
<path d="M438.5 68.2h1.3" stroke="#555" stroke-width="0.5"/>
<path d="M438.5 60.8h1.3" stroke="#555" stroke-width="0.5"/>
<path d="M449.8 98.1v-1.3" stroke="#555" stroke-width="0.5"/>
<path d="M461.1 98.1v-1.3" stroke="#555" stroke-width="0.5"/>
<path d="M472.3 98.1v-1.3" stroke="#555" stroke-width="0.5"/>
<text transform="translate(434.70 76.55) rotate(-90)" x="-19.92" y="0" font-size="6.50" textLength="39.84" lengthAdjust="spacingAndGlyphs" fill="#333">rel. cell counts</text>
<text transform="translate(487.20 76.60)" x="0.00" y="0" font-size="8.34" textLength="33.47" lengthAdjust="spacingAndGlyphs" fill="#111" stroke="#111" stroke-width="0.15">DCs day 1.5</text>
<path d="M439.1 146.7L439.2 146.6L439.3 146.5L439.5 146.4L439.7 146.2L439.9 145.9L440.1 145.6L440.3 145.1L440.6 144.7L440.9 144.1L441.2 143.5L441.5 142.7L441.8 141.9L442.0 140.9L442.3 139.8L442.6 138.6L442.9 137.3L443.2 136.1L443.4 134.9L443.6 133.7L443.8 132.6L443.9 131.4L444.1 130.3L444.3 129.2L444.4 128.0L444.6 126.8L444.8 125.6L445.1 124.4L445.3 123.2L445.5 121.9L445.8 120.6L446.0 119.2L446.3 117.8L446.5 116.3L446.8 114.8L447.0 113.5L447.3 112.2L447.5 111.2L447.7 110.2L447.9 109.3L448.1 108.5L448.3 107.8L448.5 107.2L448.6 106.7L448.8 106.3L448.9 106.0L449.0 105.7L449.2 105.6L449.3 105.5L449.4 105.6L449.6 105.7L449.7 106.0L449.9 106.3L450.0 106.7L450.1 107.2L450.2 107.8L450.3 108.5L450.4 109.3L450.5 110.2L450.6 111.2L450.8 112.2L451.0 113.5L451.2 114.8L451.4 116.3L451.7 117.8L451.9 119.2L452.1 120.6L452.4 121.9L452.6 123.1L452.8 124.3L453.0 125.5L453.3 126.7L453.5 128.0L453.7 129.3L453.9 130.6L454.1 132.0L454.3 133.3L454.6 134.5L454.8 135.7L455.1 136.8L455.3 137.8L455.6 138.7L455.9 139.6L456.2 140.5L456.5 141.2L456.8 141.9L457.1 142.4L457.4 142.9L457.7 143.4L458.1 143.8L458.5 144.2L459.0 144.7L459.5 145.2L460.1 145.7L460.7 146.1L461.2 146.5L461.5 146.7L461.5 146.8L439.1 146.8Z" fill="#b2b2b2"/>
<path d="M438.7 146.7L439.9 146.7L441.5 146.7L443.4 146.7L445.3 146.7L447.1 146.7L448.5 146.6L449.4 146.5L450.1 146.3L450.6 146.2L451.0 146.0L451.4 145.7L451.8 145.2L452.3 144.7L452.7 144.1L453.1 143.4L453.5 142.6L453.9 141.7L454.3 140.7L454.7 139.6L455.1 138.3L455.5 136.9L455.8 135.5L456.2 133.9L456.5 132.3L456.8 130.6L457.1 128.8L457.4 126.8L457.6 124.9L457.9 123.1L458.2 121.5L458.4 120.0L458.7 118.6L459.0 117.3L459.3 116.1L459.5 115.0L459.8 113.9L460.2 112.9L460.5 112.0L460.8 111.1L461.2 110.3L461.5 109.6L461.9 108.9L462.2 108.3L462.5 107.7L462.9 107.2L463.2 106.8L463.5 106.5L463.9 106.4L464.2 106.4L464.5 106.6L464.9 106.9L465.2 107.3L465.5 107.8L465.9 108.4L466.2 109.0L466.5 109.7L466.8 110.5L467.1 111.3L467.4 112.2L467.7 113.1L468.0 114.0L468.3 114.9L468.5 115.8L468.8 116.8L469.1 117.9L469.4 118.9L469.7 120.1L470.1 121.3L470.4 122.6L470.8 123.9L471.2 125.2L471.6 126.5L471.9 127.7L472.3 128.9L472.7 130.1L473.1 131.3L473.5 132.4L473.9 133.5L474.3 134.5L474.7 135.5L475.1 136.5L475.5 137.4L475.9 138.2L476.3 139.0L476.6 139.8L477.0 140.6L477.4 141.3L477.8 142.0L478.2 142.6L478.6 143.2L479.0 143.8L479.4 144.3L479.7 144.8L480.1 145.2L480.5 145.6L480.8 145.9L481.1 146.1L481.4 146.3L481.6 146.4L481.9 146.5L482.1 146.5L482.3 146.4L482.5 146.3L482.6 146.1L482.7 145.9L482.8 145.6L482.9 145.3L483.0 144.9L483.0 144.5L483.1 143.9L483.2 143.3L483.2 142.7L483.3 142.2L483.3 141.9" fill="none" stroke="#000" stroke-width="1.5" stroke-linejoin="round"/>
<path d="M459.3 114.3L459.8 110.0L460.2 112.5L460.6 107.9L461.0 111.3L461.4 107.5L461.9 108.3L462.3 104.3L462.7 107.7L463.1 104.7L463.5 108.7L463.9 103.8L464.4 108.4L464.8 104.3L465.2 108.8L465.6 106.2L466.0 110.0L466.5 105.9L466.9 111.4L467.3 108.0L467.7 113.6L468.1 111.6L468.6 116.0" fill="none" stroke="#000" stroke-width="1.1" stroke-linejoin="round"/>
<rect x="438.5" y="102.3" width="45.1" height="45.0" fill="none" stroke="#333" stroke-width="0.85"/>
<path d="M438.5 139.8h1.3" stroke="#555" stroke-width="0.5"/>
<path d="M438.5 132.3h1.3" stroke="#555" stroke-width="0.5"/>
<path d="M438.5 124.8h1.3" stroke="#555" stroke-width="0.5"/>
<path d="M438.5 117.3h1.3" stroke="#555" stroke-width="0.5"/>
<path d="M438.5 109.8h1.3" stroke="#555" stroke-width="0.5"/>
<path d="M449.8 147.3v-1.3" stroke="#555" stroke-width="0.5"/>
<path d="M461.1 147.3v-1.3" stroke="#555" stroke-width="0.5"/>
<path d="M472.3 147.3v-1.3" stroke="#555" stroke-width="0.5"/>
<text transform="translate(434.70 125.65) rotate(-90)" x="-19.92" y="0" font-size="6.50" textLength="39.84" lengthAdjust="spacingAndGlyphs" fill="#333">rel. cell counts</text>
<text transform="translate(487.20 127.30)" x="0.00" y="0" font-size="8.10" textLength="27.65" lengthAdjust="spacingAndGlyphs" fill="#111" stroke="#111" stroke-width="0.15">DCs day 6</text>
<text transform="translate(461.60 159.30)" x="-11.50" y="0" font-size="8.77" textLength="23.00" lengthAdjust="spacingAndGlyphs" fill="#111" stroke="#111" stroke-width="0.25">CD32a</text>
<path d="M439.2 224.9L439.5 224.4L439.9 223.7L440.4 222.8L440.9 221.8L441.3 220.8L441.8 219.9L442.1 218.9L442.5 217.9L442.8 216.8L443.1 215.7L443.5 214.7L443.8 213.7L444.1 212.8L444.4 211.9L444.6 211.0L444.9 210.2L445.2 209.4L445.4 208.7L445.7 208.0L445.9 207.3L446.1 206.7L446.4 206.2L446.6 205.7L446.8 205.3L447.0 205.0L447.2 204.7L447.4 204.5L447.6 204.4L447.8 204.4L447.9 204.5L448.1 204.6L448.3 204.9L448.5 205.2L448.6 205.7L448.8 206.2L449.0 207.0L449.1 208.0L449.3 209.2L449.5 210.5L449.7 211.9L449.9 213.3L450.1 214.5L450.3 215.7L450.6 217.0L450.8 218.2L451.0 219.3L451.3 220.3L451.5 221.2L451.7 222.0L451.9 222.6L452.1 223.1L452.3 223.5L452.5 223.9L452.6 224.2L452.8 224.5L453.0 224.7L453.1 224.8L453.3 224.8L453.4 224.9L453.5 224.9L453.5 225.2L439.2 225.2Z" fill="#b2b2b2"/>
<path d="M438.7 224.7L438.9 224.6L439.2 224.4L439.5 224.1L439.8 223.9L440.1 223.6L440.4 223.2L440.7 222.9L441.0 222.6L441.2 222.3L441.5 221.9L441.8 221.5L442.1 220.9L442.4 220.2L442.8 219.4L443.2 218.6L443.6 217.6L443.9 216.5L444.3 215.4L444.6 214.1L444.9 212.7L445.2 211.2L445.4 209.7L445.7 208.0L445.9 206.2L446.2 204.1L446.4 201.8L446.6 199.4L446.9 197.0L447.1 194.8L447.3 192.8L447.5 190.8L447.7 188.9L447.9 187.0L448.1 185.5L448.2 184.4L448.5 183.9L448.7 184.1L448.9 184.9L449.1 186.2L449.4 187.7L449.6 189.4L449.8 191.1L450.0 192.8L450.2 194.7L450.4 196.8L450.6 198.9L450.8 200.9L451.0 202.8L451.2 204.5L451.4 206.2L451.6 207.8L451.8 209.3L452.1 210.7L452.3 212.0L452.5 213.1L452.8 214.1L453.0 214.9L453.3 215.7L453.5 216.4L453.8 217.0L454.1 217.7L454.5 218.2L454.8 218.7L455.2 219.2L455.6 219.6L456.0 219.9L456.4 220.1L456.8 220.2L457.3 220.2L457.7 220.3L458.1 220.3L458.5 220.4L458.9 220.5L459.2 220.7L459.5 220.9L459.8 221.1L460.2 221.3L460.5 221.6L460.9 221.8L461.2 222.2L461.6 222.5L461.9 222.8L462.3 223.1L462.7 223.4L463.0 223.6L463.3 223.9L463.6 224.1L463.9 224.3L464.4 224.4L465.2 224.6L466.2 224.7L467.5 224.8L468.9 224.8L470.5 224.9L472.0 224.9L473.6 224.9L475.2 224.9L477.1 224.9L479.0 224.9L480.7 224.9L482.2 224.9L483.3 224.9" fill="none" stroke="#000" stroke-width="1.5" stroke-linejoin="round"/>
<rect x="438.5" y="180.8" width="45.1" height="44.9" fill="none" stroke="#333" stroke-width="0.85"/>
<path d="M438.5 218.2h1.3" stroke="#555" stroke-width="0.5"/>
<path d="M438.5 210.7h1.3" stroke="#555" stroke-width="0.5"/>
<path d="M438.5 203.2h1.3" stroke="#555" stroke-width="0.5"/>
<path d="M438.5 195.8h1.3" stroke="#555" stroke-width="0.5"/>
<path d="M438.5 188.3h1.3" stroke="#555" stroke-width="0.5"/>
<path d="M449.8 225.7v-1.3" stroke="#555" stroke-width="0.5"/>
<path d="M461.1 225.7v-1.3" stroke="#555" stroke-width="0.5"/>
<path d="M472.3 225.7v-1.3" stroke="#555" stroke-width="0.5"/>
<text transform="translate(434.10 202.90) rotate(-90)" x="-19.92" y="0" font-size="6.50" textLength="39.84" lengthAdjust="spacingAndGlyphs" fill="#333">rel. cell counts</text>
<text transform="translate(487.20 205.50)" x="0.00" y="0" font-size="7.76" textLength="31.28" lengthAdjust="spacingAndGlyphs" fill="#111" stroke="#111" stroke-width="0.15">monocytes</text>
<path d="M442.3 273.4L442.5 273.4L442.8 273.4L443.2 273.3L443.7 273.0L444.1 272.7L444.4 272.2L444.7 271.7L445.0 271.2L445.3 270.5L445.6 269.8L445.9 268.9L446.1 267.9L446.3 266.7L446.5 265.4L446.7 264.0L446.9 262.5L447.1 260.9L447.3 259.2L447.4 257.4L447.6 255.4L447.7 253.4L447.8 251.3L448.0 249.3L448.1 247.5L448.3 245.6L448.4 243.8L448.5 242.0L448.7 240.3L448.8 238.7L449.0 237.4L449.1 236.3L449.3 235.2L449.4 234.4L449.6 233.7L449.8 233.3L450.0 233.2L450.2 233.4L450.4 233.8L450.6 234.5L450.9 235.4L451.1 236.7L451.3 238.2L451.5 240.3L451.7 242.8L451.8 245.7L452.0 248.6L452.1 251.5L452.3 254.2L452.5 256.6L452.6 259.1L452.8 261.5L453.0 263.8L453.1 265.8L453.3 267.6L453.5 269.0L453.7 270.1L453.9 271.0L454.1 271.8L454.3 272.4L454.5 272.9L454.7 273.3L454.9 273.4L455.1 273.4L455.2 273.4L455.4 273.4L455.5 273.4L455.5 273.4L442.3 273.4Z" fill="#b2b2b2"/>
<path d="M438.7 273.4L439.6 273.4L440.8 273.4L442.2 273.4L443.6 273.4L444.9 273.4L445.9 273.2L446.6 273.0L447.1 272.8L447.4 272.5L447.7 272.1L447.9 271.6L448.1 270.9L448.4 270.1L448.6 269.2L448.8 268.1L449.0 267.0L449.1 265.7L449.3 264.2L449.4 262.5L449.6 260.7L449.7 258.7L449.9 256.6L450.0 254.5L450.1 252.5L450.3 250.5L450.4 248.4L450.5 246.4L450.7 244.4L450.8 242.5L451.0 240.8L451.1 239.0L451.3 237.3L451.5 235.6L451.7 234.1L451.9 233.0L452.1 232.4L452.3 232.3L452.6 232.7L452.8 233.5L453.0 234.4L453.3 235.3L453.5 236.1L453.7 236.7L453.9 237.4L454.1 238.0L454.3 238.7L454.6 239.3L454.8 239.9L455.1 240.5L455.4 241.1L455.8 241.7L456.2 242.2L456.5 242.8L456.8 243.3L457.1 243.7L457.4 244.1L457.7 244.4L458.0 244.8L458.2 245.2L458.5 245.8L458.8 246.5L459.0 247.3L459.3 248.2L459.6 249.1L459.9 250.0L460.2 250.8L460.5 251.5L460.8 252.3L461.1 252.9L461.5 253.6L461.8 254.3L462.2 255.0L462.5 255.7L462.9 256.3L463.3 257.0L463.6 257.7L464.0 258.4L464.4 259.2L464.7 260.1L465.1 261.0L465.5 262.1L465.8 263.1L466.2 264.1L466.5 265.0L466.9 266.0L467.2 266.9L467.6 267.8L467.9 268.6L468.2 269.4L468.6 270.1L468.9 270.6L469.2 271.1L469.5 271.6L469.8 271.9L470.2 272.3L470.6 272.6L470.9 272.8L471.2 273.1L471.6 273.2L472.0 273.4L472.7 273.4L473.6 273.4L474.9 273.4L476.7 273.4L478.6 273.4L480.5 273.4L482.2 273.4L483.3 273.4" fill="none" stroke="#000" stroke-width="1.5" stroke-linejoin="round"/>
<rect x="438.5" y="229.1" width="45.1" height="44.8" fill="none" stroke="#333" stroke-width="0.85"/>
<path d="M438.5 266.4h1.3" stroke="#555" stroke-width="0.5"/>
<path d="M438.5 259.0h1.3" stroke="#555" stroke-width="0.5"/>
<path d="M438.5 251.5h1.3" stroke="#555" stroke-width="0.5"/>
<path d="M438.5 244.0h1.3" stroke="#555" stroke-width="0.5"/>
<path d="M438.5 236.6h1.3" stroke="#555" stroke-width="0.5"/>
<path d="M449.8 273.9v-1.3" stroke="#555" stroke-width="0.5"/>
<path d="M461.1 273.9v-1.3" stroke="#555" stroke-width="0.5"/>
<path d="M472.3 273.9v-1.3" stroke="#555" stroke-width="0.5"/>
<text transform="translate(434.10 251.15) rotate(-90)" x="-19.92" y="0" font-size="6.50" textLength="39.84" lengthAdjust="spacingAndGlyphs" fill="#333">rel. cell counts</text>
<text transform="translate(487.20 254.00)" x="0.00" y="0" font-size="8.34" textLength="33.47" lengthAdjust="spacingAndGlyphs" fill="#111" stroke="#111" stroke-width="0.15">DCs day 1.5</text>
<path d="M449.3 321.9L449.4 321.7L449.6 321.6L449.9 321.3L450.1 320.9L450.4 320.4L450.6 319.7L450.8 318.9L451.0 317.8L451.2 316.7L451.4 315.3L451.6 313.9L451.8 312.2L452.0 310.3L452.2 308.1L452.4 305.8L452.6 303.4L452.8 301.0L453.0 298.8L453.2 296.7L453.4 294.6L453.5 292.6L453.7 290.6L453.9 288.8L454.1 287.1L454.4 285.4L454.6 283.8L454.8 282.2L455.0 280.9L455.3 280.0L455.5 279.7L455.7 280.0L455.9 280.9L456.1 282.1L456.3 283.7L456.5 285.4L456.7 287.1L456.8 288.9L457.0 290.9L457.2 293.0L457.3 295.3L457.5 297.5L457.7 299.6L457.8 301.8L458.0 304.0L458.2 306.2L458.4 308.4L458.6 310.4L458.8 312.2L459.0 313.8L459.2 315.3L459.4 316.6L459.6 317.8L459.8 318.9L460.0 319.7L460.2 320.4L460.5 320.9L460.8 321.3L461.0 321.6L461.2 321.7L461.3 321.9L461.3 321.9L449.3 321.9Z" fill="#b2b2b2"/>
<path d="M438.7 321.7L439.7 321.7L441.0 321.7L442.6 321.7L444.2 321.6L445.7 321.6L446.8 321.4L447.5 321.3L448.1 321.2L448.4 321.0L448.7 320.8L449.0 320.4L449.3 319.7L449.6 318.9L449.9 317.8L450.2 316.6L450.5 315.2L450.7 313.8L451.0 312.2L451.2 310.5L451.4 308.6L451.6 306.6L451.8 304.5L451.9 302.5L452.1 300.5L452.3 298.5L452.5 296.4L452.7 294.3L452.9 292.3L453.1 290.4L453.3 288.8L453.5 287.3L453.7 286.1L453.9 284.9L454.2 284.0L454.4 283.1L454.6 282.4L454.9 281.8L455.2 281.3L455.5 281.0L455.7 280.8L456.0 280.7L456.3 280.7L456.6 280.8L456.9 281.0L457.3 281.2L457.6 281.6L457.9 282.1L458.2 282.7L458.4 283.5L458.7 284.3L458.9 285.3L459.1 286.4L459.3 287.6L459.5 288.8L459.7 290.0L459.9 291.4L460.0 292.8L460.2 294.3L460.3 295.8L460.5 297.1L460.7 298.5L460.9 299.8L461.1 301.1L461.4 302.4L461.6 303.6L461.9 304.7L462.1 305.6L462.4 306.5L462.6 307.3L462.9 308.1L463.2 308.7L463.5 309.2L463.8 309.5L464.2 309.7L464.5 309.8L464.8 309.8L465.2 310.0L465.5 310.2L465.9 310.6L466.2 311.0L466.6 311.5L467.0 312.0L467.3 312.5L467.7 313.0L468.1 313.6L468.5 314.1L468.9 314.7L469.3 315.3L469.8 315.9L470.2 316.4L470.7 316.9L471.3 317.4L471.8 317.9L472.4 318.4L473.0 318.8L473.6 319.2L474.1 319.6L474.6 319.9L475.1 320.2L475.6 320.5L476.2 320.7L476.9 320.9L477.9 321.1L479.1 321.3L480.3 321.4L481.5 321.6L482.6 321.7L483.3 321.7" fill="none" stroke="#000" stroke-width="2.0" stroke-linejoin="round"/>
<path d="M453.5 288.5L453.9 284.7L454.3 284.8L454.8 281.3L455.2 283.4L455.7 279.9L456.1 282.9L456.5 279.7L457.0 283.8L457.4 281.7L457.8 285.6L458.3 284.0L458.7 288.6" fill="none" stroke="#000" stroke-width="1.1" stroke-linejoin="round"/>
<rect x="438.5" y="277.3" width="45.1" height="45.1" fill="none" stroke="#333" stroke-width="0.85"/>
<path d="M438.5 314.9h1.3" stroke="#555" stroke-width="0.5"/>
<path d="M438.5 307.4h1.3" stroke="#555" stroke-width="0.5"/>
<path d="M438.5 299.9h1.3" stroke="#555" stroke-width="0.5"/>
<path d="M438.5 292.3h1.3" stroke="#555" stroke-width="0.5"/>
<path d="M438.5 284.8h1.3" stroke="#555" stroke-width="0.5"/>
<path d="M449.8 322.4v-1.3" stroke="#555" stroke-width="0.5"/>
<path d="M461.1 322.4v-1.3" stroke="#555" stroke-width="0.5"/>
<path d="M472.3 322.4v-1.3" stroke="#555" stroke-width="0.5"/>
<text transform="translate(434.10 299.50) rotate(-90)" x="-19.92" y="0" font-size="6.50" textLength="39.84" lengthAdjust="spacingAndGlyphs" fill="#333">rel. cell counts</text>
<text transform="translate(487.20 305.00)" x="0.00" y="0" font-size="8.10" textLength="27.65" lengthAdjust="spacingAndGlyphs" fill="#111" stroke="#111" stroke-width="0.15">DCs day 6</text>
<text transform="translate(461.00 335.00)" x="-11.86" y="0" font-size="8.77" textLength="23.72" lengthAdjust="spacingAndGlyphs" fill="#111" stroke="#111" stroke-width="0.25">CD32b</text>
</svg>
</body></html>
